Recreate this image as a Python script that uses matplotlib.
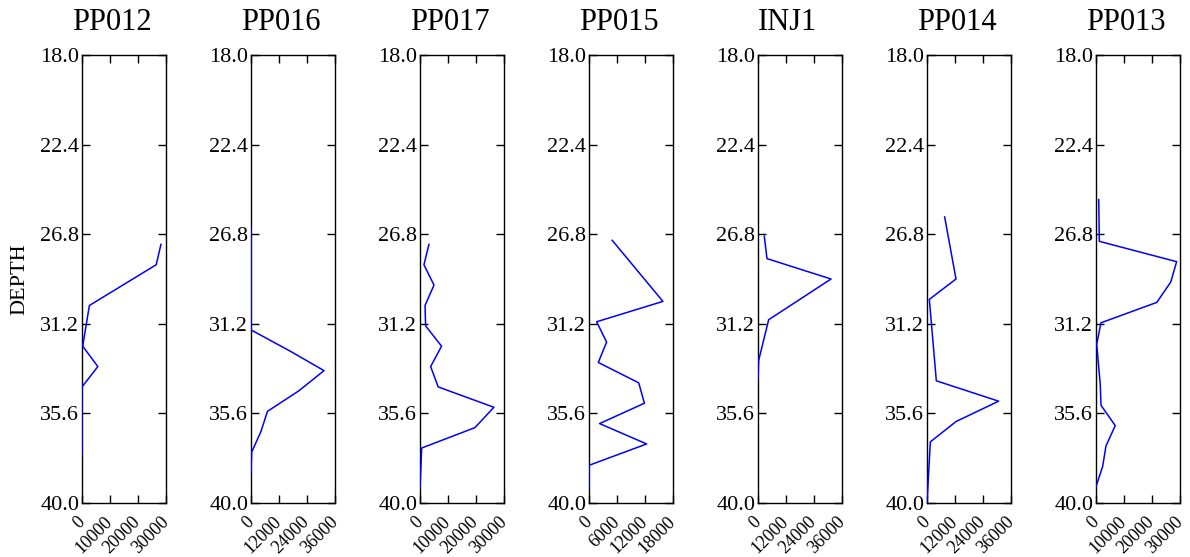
import numpy as np
import matplotlib
matplotlib.use("Agg")
import matplotlib.pyplot as plt

plt.rcParams['font.family'] = ['Liberation Serif', 'DejaVu Serif']

wells = ["PP012", "PP016", "PP017", "PP015", "INJ1", "PP014", "PP013"]

pp012_depth = [27.3, 28.3, 30.3, 32.3, 33.3, 34.3, 37.65]
pp012_val = [28200, 26500, 2640, 250, 5660, 0, 0]

pp016_depth = [26.45, 31.5, 32.55, 33.5, 34.5, 35.5, 36.5, 37.5, 38.5]
pp016_val = [0, 0, 16900, 31300, 20400, 7050, 4230, 300, 0]

pp017_depth = [27.3, 28.3, 29.3, 30.3, 31.3, 32.3, 33.3, 34.3, 35.3, 36.3, 37.3, 39.3]
pp017_val = [3200, 1400, 5000, 1800, 2000, 7700, 3800, 6500, 26400, 19600, 600, 0]

pp015_depth = [27.1, 30.1, 31.1, 32.1, 33.1, 34.1, 35.1, 36.1, 37.1, 38.15, 39.2]
pp015_val = [4970, 15840, 1640, 3770, 1990, 10660, 11870, 2270, 12350, 0, 0]

inj1_depth = [26.9, 28.0, 29.0, 31.0, 33.0, 34.0]
inj1_val = [2700, 3860, 31300, 4570, 280, 0]

pp014_depth = [25.95, 29.0, 30.0, 34.0, 35.0, 36.0, 37.0, 40.0]
pp014_val = [7560, 12430, 1000, 4000, 30700, 12430, 1430, 0]

pp013_depth = [25.1, 27.15, 28.15, 29.15, 30.15, 31.15, 32.2, 34.2, 35.2, 36.2, 37.2, 38.2, 39.2]
pp013_val = [960, 1190, 28800, 26700, 21700, 1780, 250, 1530, 1780, 6870, 3560, 2390, 0]

depths = [pp012_depth, pp016_depth, pp017_depth, pp015_depth, inj1_depth, pp014_depth, pp013_depth]
vals = [pp012_val, pp016_val, pp017_val, pp015_val, inj1_val, pp014_val, pp013_val]
xmax = [30000, 36000, 30000, 18000, 36000, 36000, 30000]

ytick = np.linspace(18.0, 40.0, 6)

fig, axes = plt.subplots(1, 7, figsize=(11.9, 5.57), dpi=100)
plt.subplots_adjust(left=82/1190, right=1180/1190, bottom=54/557, top=502/557, wspace=85/84)

for i, ax in enumerate(axes):
    ax.plot(vals[i], depths[i], color='#0000ff', linewidth=1.1, zorder=3)
    ax.set_ylim(40.0, 18.0)
    ax.set_xlim(0, xmax[i])
    ax.set_yticks(ytick)
    ax.set_yticklabels(["%.1f" % t for t in ytick], fontsize=16)
    xt = np.linspace(0, xmax[i], 4)
    ax.set_xticks(xt)
    ax.set_xticklabels(["%d" % t for t in xt], fontsize=13, rotation=45,
                       ha='right', va='center', rotation_mode='anchor')
    ax.tick_params(direction='in', top=True, right=True, length=6, width=1)
    ax.tick_params(axis='y', pad=2)
    ax.tick_params(axis='x', pad=12)
    ax.set_title(wells[i], fontsize=22, pad=18, x=0.355)
    for s in ax.spines.values():
        s.set_linewidth(1)

axes[0].set_ylabel("DEPTH", fontsize=16, labelpad=8)

plt.savefig("out.png", dpi=100)
